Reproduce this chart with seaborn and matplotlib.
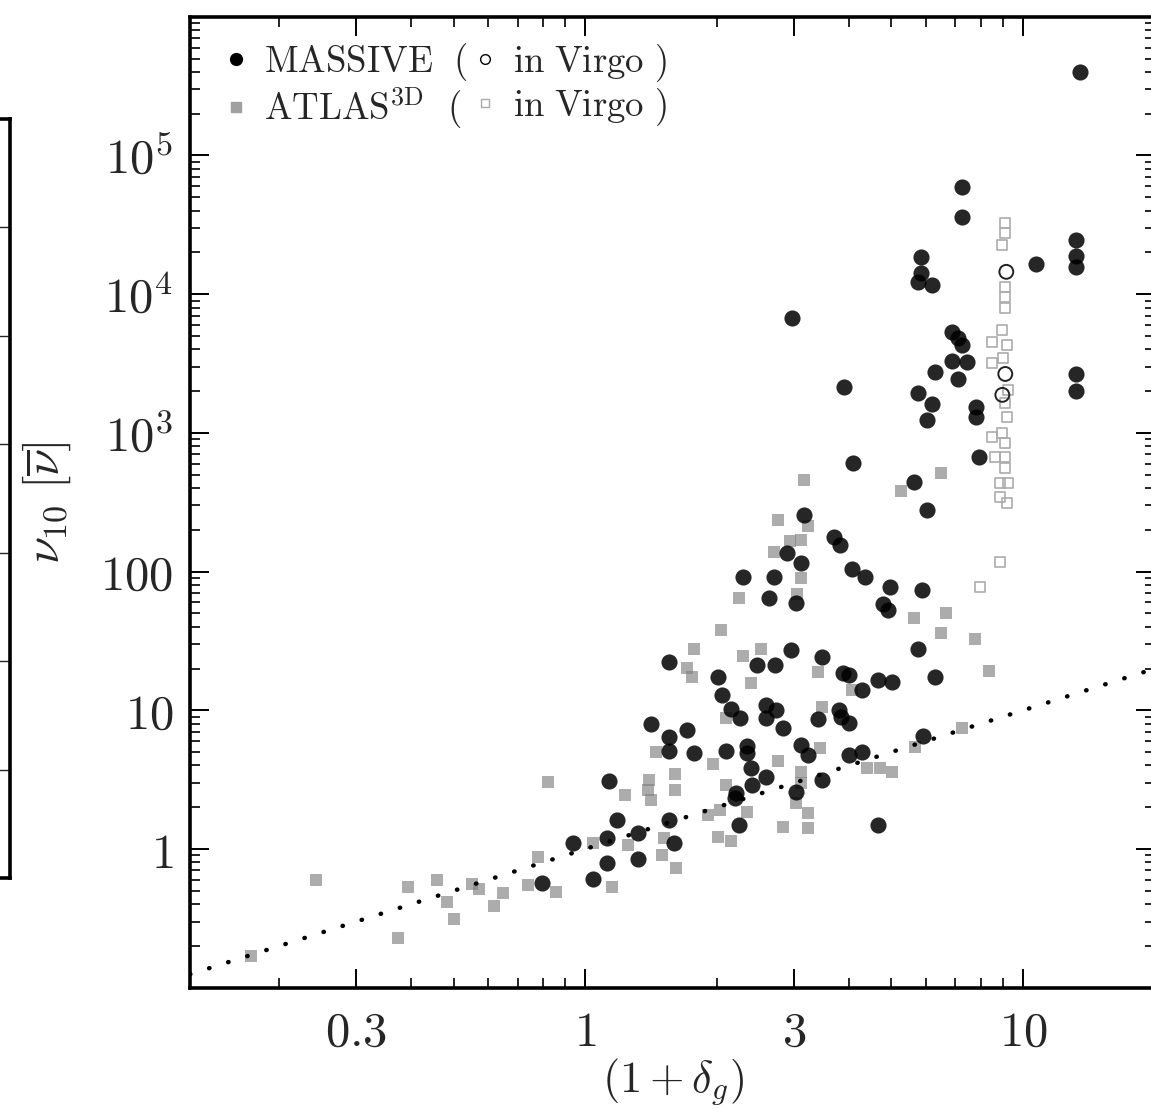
import numpy as np
import pandas as pd
import matplotlib
matplotlib.use("Agg")
import matplotlib.pyplot as plt
from matplotlib.lines import Line2D
from matplotlib.ticker import NullFormatter, LogLocator, FixedLocator
import seaborn as sns

# ---------------- data ----------------
massive_x = [13.5, 7.26, 7.26, 5.85, 5.85, 5.76, 6.20, 2.97, 10.7, 13.2, 13.2, 13.2, 6.89, 7.11, 7.26,
             6.89, 7.45, 7.11, 6.30, 3.90, 5.76, 6.20, 6.04, 7.81, 7.81, 13.2, 13.2, 7.94, 4.09, 5.64,
             6.04, 3.16, 3.70, 3.82, 2.89, 3.11, 2.29, 2.70, 4.07, 4.36, 4.97, 5.87, 2.63, 3.02, 4.79,
             4.92, 5.76, 2.95, 3.48, 2.47, 2.71, 1.55, 2.01, 2.05, 3.88, 3.99, 4.29, 4.67, 5.02, 6.30,
             2.15, 2.25, 2.58, 2.73, 2.58, 2.83, 3.40, 3.80, 3.84, 4.01, 1.41, 1.71, 1.55, 1.55, 1.77,
             2.10, 2.34, 2.34, 3.10, 3.23, 3.99, 4.29, 2.39, 2.58, 2.40, 2.21, 2.20, 3.02, 3.48, 5.90,
             1.13, 1.18, 1.55, 1.32, 1.12, 0.939, 1.59, 2.24, 4.67, 1.12, 1.32, 1.04, 0.798]
massive_y = [4.0e5, 5.9e4, 3.6e4, 1.85e4, 1.42e4, 1.22e4, 1.16e4, 6730, 1.65e4, 2.46e4, 1.88e4, 1.57e4, 5340, 4830, 4300,
             3300, 3240, 2450, 2750, 2140, 1940, 1620, 1240, 1540, 1300, 2660, 2000, 670, 607, 443,
             278, 256, 178, 156, 136, 115, 91.4, 91.4, 104, 91.4, 77.4, 73.6, 64.5, 59.4, 58.4,
             52.8, 27.7, 27.2, 24.2, 21.2, 21.2, 22.3, 17.4, 12.9, 18.6, 18.0, 14.0, 16.5, 16.0, 17.4,
             10.2, 8.80, 10.9, 10.05, 8.80, 7.45, 8.65, 10.05, 8.95, 8.10, 7.97, 7.21, 6.42, 5.09, 4.92,
             5.09, 5.53, 4.92, 5.62, 4.76, 4.76, 5.00, 3.84, 3.30, 2.89, 2.53, 2.33, 2.58, 3.14, 6.53,
             3.09, 1.62, 1.62, 1.30, 1.20, 1.10, 1.10, 1.49, 1.49, 0.793, 0.847, 0.608, 0.569]

massive_virgo_x = [9.15, 9.10, 8.96]
massive_virgo_y = [1.45e4, 2660, 1880]

atlas_x = [3.15, 6.50, 5.27, 2.76, 3.23, 2.94, 3.11, 2.70, 3.11, 2.24, 3.05, 2.04, 1.77, 2.29, 2.52,
           1.71, 1.75, 2.39, 3.40, 5.64, 6.67, 6.50, 7.77, 8.36, 4.07,
           3.48, 2.10, 1.45, 1.96, 2.76, 3.43, 1.60, 1.40, 1.39, 1.41, 1.60, 1.23, 2.10, 3.11, 3.11,
           3.02, 3.23, 3.23, 2.83, 2.34, 2.03, 1.91, 2.01, 2.15, 1.51,
           1.25, 1.04, 4.40, 4.71, 5.02, 5.66, 7.26, 0.823, 0.242, 0.394, 0.459, 0.552, 0.570, 0.484,
           0.502, 0.374, 0.650, 0.617, 0.781, 0.741, 0.859, 1.15, 1.50, 0.172, 1.61]
atlas_y = [458, 514, 381, 236, 213, 166, 169, 138, 89.9, 64.5, 68.9, 37.9, 27.7, 24.6, 27.7,
           20.2, 17.4, 15.7, 18.9, 46.3, 50.3, 36.1, 32.7, 19.2, 14.0,
           10.6, 8.80, 5.00, 4.10, 4.31, 5.35, 3.47, 3.14, 2.66, 2.26, 2.66, 2.45, 2.89, 3.59, 2.99,
           2.15, 1.82, 1.42, 1.44, 1.85, 1.91, 1.76, 1.22, 1.14, 1.20,
           1.07, 1.10, 3.84, 3.84, 3.59, 5.44, 7.45, 3.04, 0.598, 0.532, 0.598, 0.560, 0.515, 0.415,
           0.313, 0.228, 0.482, 0.388, 0.875, 0.550, 0.490, 0.532, 0.905, 0.169, 0.730]

atlas_virgo_x = [9.10, 9.10, 8.96, 9.10, 9.10, 9.10, 8.96, 8.50, 9.20, 9.01, 8.50, 9.25, 9.10,
                 9.20, 8.96, 8.50, 9.10, 8.63, 9.10, 9.10, 8.86, 9.25, 8.86, 9.20, 8.86, 7.98]
atlas_virgo_y = [32600, 27600, 22600, 11300, 9500, 7940, 5520, 4520, 4300, 3470, 3190, 2040, 1640,
                 1300, 998, 934, 846, 670, 670, 558, 435, 435, 345, 312, 117, 77.4]

one_to_one = [0.125, 20.0]

x_ticks = [0.3, 1, 3, 10]
x_tick_labels = [r"$0.3$", r"$1$", r"$3$", r"$10$"]
y_ticks = [1, 10, 100, 1e3, 1e4, 1e5]
y_tick_labels = [r"$1$", r"$10$", r"$100$", r"$10^3$", r"$10^4$", r"$10^5$"]

legend_labels = [r"$\mathrm{MASSIVE}\ \ ($", r"$\mathrm{ATLAS^{3D}}\ \ ($",
                 r"$\mathrm{in\ Virgo\ )}$", r"$\mathrm{in\ Virgo\ )}$"]

# ---------------- style ----------------
sns.set_style("white")
plt.rcParams["mathtext.fontset"] = "cm"
plt.rcParams["font.family"] = ["DejaVu Serif"]

W, H = 1151, 1109
fig = plt.figure(figsize=(W / 100, H / 100), dpi=100)
ax = fig.add_axes([190 / W, (H - 987.7) / H, 965 / W, 970.9 / H])

df_atlas_v = pd.DataFrame({"d": atlas_virgo_x, "nu": atlas_virgo_y})
df_atlas = pd.DataFrame({"d": atlas_x, "nu": atlas_y})
df_mass = pd.DataFrame({"d": massive_x, "nu": massive_y})
df_mass_v = pd.DataFrame({"d": massive_virgo_x, "nu": massive_virgo_y})

sns.scatterplot(data=df_atlas_v, x="d", y="nu", ax=ax, marker="s", s=50,
                facecolor="none", edgecolor="#ababab", linewidth=1.2, zorder=2)
sns.scatterplot(data=df_atlas, x="d", y="nu", ax=ax, marker="s", s=75,
                color="#808080", alpha=0.65, linewidth=0, zorder=3)
sns.scatterplot(data=df_mass, x="d", y="nu", ax=ax, marker="o", s=135,
                color="#000000", alpha=0.85, linewidth=0, zorder=4)
sns.scatterplot(data=df_mass_v, x="d", y="nu", ax=ax, marker="o", s=100,
                facecolor="none", edgecolor="#222222", linewidth=1.4, zorder=5)

ax.plot(one_to_one, one_to_one, color="black", lw=3.2, linestyle=(0, (0.1, 4.4)),
        dash_capstyle="round", zorder=6)

ax.set_xscale("log")
ax.set_yscale("log")

ax.xaxis.set_major_locator(FixedLocator(x_ticks))
ax.set_xticklabels(x_tick_labels)
ax.xaxis.set_minor_locator(FixedLocator([m * 10.0 ** e for e in (-1, 0, 1) for m in range(2, 10)
                                         if round(m * 10.0 ** e, 6) not in x_ticks]))
ax.xaxis.set_minor_formatter(NullFormatter())
ax.yaxis.set_major_locator(FixedLocator(y_ticks))
ax.set_yticklabels(y_tick_labels)
ax.yaxis.set_minor_locator(LogLocator(base=10, subs=np.arange(2, 10), numticks=100))
ax.yaxis.set_minor_formatter(NullFormatter())
ax.set_xlim(0.125, 20)
ax.set_ylim(0.1, 1e6)

ax.tick_params(which="both", direction="in", top=True, right=True, left=True, bottom=True,
               color="black")
ax.tick_params(which="major", length=14, width=1.4, labelsize=35)
ax.tick_params(which="minor", length=7, width=1.2)
ax.tick_params(axis="x", which="major", pad=15)
ax.tick_params(axis="y", which="major", pad=12)
for s in ax.spines.values():
    s.set_linewidth(2.6)
    s.set_color("black")
mt = ax.xaxis.get_major_ticks()
mt[1].tick1line.set_color("#d0d0d0")
mt[1].tick2line.set_color("#d0d0d0")

ax.set_xlabel(r"$(1+\delta_g)$", fontsize=32)
ax.xaxis.set_label_coords(0.5, -0.071)
ax.set_ylabel(r"$\nu_{10}\ [\overline{\nu}]$", fontsize=35)
ax.yaxis.set_label_coords(-0.121, 0.5)

handles = [
    Line2D([], [], marker="o", ls="none", color="black", markersize=8.5),
    Line2D([], [], marker="s", ls="none", color="#a0a0a0", markersize=7),
    Line2D([], [], marker="o", ls="none", mfc="none", mec="black", markersize=7, mew=1.0),
    Line2D([], [], marker="s", ls="none", mfc="none", mec="#aaaaaa", markersize=6, mew=1.0),
]
ax.legend(handles=handles, labels=legend_labels, ncol=2, loc="upper left",
          bbox_to_anchor=(0.0370, 0.975), frameon=False, fontsize=26.5,
          handlelength=0.55, handletextpad=0.5, columnspacing=0.18,
          labelspacing=0.05, borderpad=0, borderaxespad=0)

# neighbouring panel, cropped at the left edge of the figure
ax2 = fig.add_axes([-0.3, (H - 878) / H, 0.3 + 10 / W, (878 - 119) / H])
ax2.set_ylim(0, 7)
ax2.set_xticks([])
ax2.set_yticks(range(1, 7))
ax2.yaxis.tick_right()
ax2.tick_params(axis="y", direction="in", length=20, width=1.0, labelright=False)
for s in ax2.spines.values():
    s.set_linewidth(2.6)
    s.set_color("black")

fig.savefig("out.png", dpi=100)
